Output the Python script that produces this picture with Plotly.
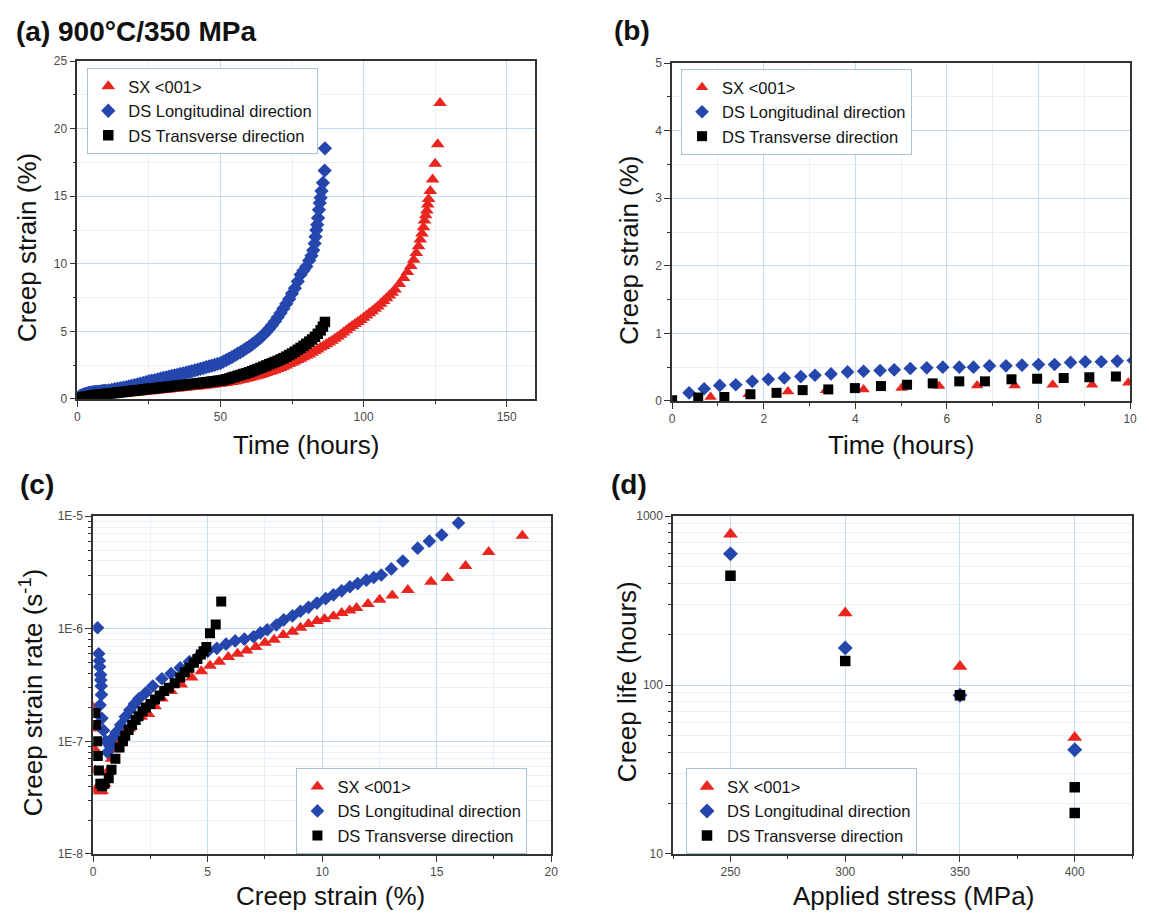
import plotly.graph_objects as go

# ---------------- data ----------------
SERIES = ['SX <001>', 'DS Longitudinal direction', 'DS Transverse direction']

# (a)/(b) creep strain (%) vs time (hours)
SX_time = [0.84, 1.67, 2.53, 3.36, 4.18, 5.01, 5.83, 6.66, 7.48, 8.31, 9.17, 9.96,
           11, 12, 13, 14, 15, 16, 17, 18, 19, 20, 21, 22, 23, 24, 25, 26, 27, 28, 29, 30,
           31, 32, 33, 34, 35, 36, 37, 38, 39, 40, 41, 42, 43, 44, 45, 46, 47, 48, 49, 50,
           51, 52, 53, 54, 55, 56, 57, 58, 59, 60, 61, 62, 63, 64, 65, 66, 67, 68, 69, 70,
           71, 72, 73, 74, 75, 76, 77, 78, 79, 80, 81, 82, 83, 84, 85, 86, 87, 88, 89, 90,
           91, 92, 93, 94, 95, 96, 97, 98, 99, 100, 101, 102, 103, 104, 105, 106, 107, 108,
           109, 110, 111,
           112.5, 114, 115.3, 116.5, 117.5, 118.4, 119.2, 119.8, 120.4, 120.9, 121.3, 121.7,
           122.1, 122.4, 122.7, 123.3, 124.1, 125.0, 125.9, 126.7]
SX_strain = [0.06, 0.10, 0.14, 0.16, 0.17, 0.19, 0.22, 0.23, 0.23, 0.24, 0.24, 0.27,
             0.29, 0.30, 0.32, 0.34, 0.36, 0.37, 0.39, 0.41, 0.43, 0.45, 0.47, 0.49, 0.51, 0.53,
             0.56, 0.58, 0.60, 0.62, 0.64, 0.66, 0.68, 0.70, 0.73, 0.75, 0.77, 0.79, 0.81, 0.83,
             0.86, 0.88, 0.90, 0.92, 0.95, 0.97, 1.00, 1.02, 1.05, 1.07, 1.10, 1.13, 1.16, 1.19,
             1.23, 1.26, 1.30, 1.35, 1.40, 1.45, 1.50, 1.55, 1.60, 1.66, 1.72, 1.78, 1.85, 1.92,
             1.99, 2.06, 2.13, 2.21, 2.30, 2.39, 2.48, 2.58, 2.68, 2.78, 2.88, 2.98, 3.08, 3.19,
             3.30, 3.42, 3.55, 3.67, 3.80, 3.92, 4.05, 4.17, 4.30, 4.45, 4.60, 4.76, 4.92, 5.08,
             5.25, 5.40, 5.55, 5.70, 5.85, 6.02, 6.18, 6.34, 6.50, 6.67, 6.85, 7.05, 7.25, 7.45,
             7.65, 7.87, 8.10,
             8.50, 8.95, 9.40, 9.85, 10.30, 10.80, 11.30, 11.80, 12.25, 12.70, 13.20, 13.60,
             13.95, 14.40, 14.80, 15.40, 16.25, 17.40, 18.85, 21.90]

DSL_time = [0.37, 0.70, 1.04, 1.39, 1.75, 2.10, 2.45, 2.81, 3.12, 3.47, 3.83, 4.18, 4.54, 4.85,
            5.20, 5.56, 5.91, 6.27, 6.58, 6.93, 7.29, 7.64, 8.00, 8.35, 8.70, 9.02, 9.37, 9.72, 10.07,
            11, 12, 13, 14, 15, 16, 17, 18, 19, 20, 21, 22, 23, 24, 25, 26, 27, 28, 29, 30,
            31, 32, 33, 34, 35, 36, 37, 38, 39, 40, 41, 42, 43, 44, 45, 46, 47, 48, 49, 50,
            51, 52, 53, 54, 55, 56, 57, 58, 59, 60, 61, 62, 63, 64, 65, 66, 67, 68, 69, 70,
            71, 72, 73, 74, 75, 76,
            77, 78, 79, 80, 81, 81.8, 82.4, 82.9, 83.2, 83.5, 83.8, 84.1, 84.4, 84.7, 85.0,
            85.3, 85.8, 86.4, 86.5]
DSL_strain = [0.12, 0.18, 0.23, 0.24, 0.29, 0.32, 0.34, 0.36, 0.38, 0.40, 0.43, 0.44, 0.45, 0.46,
              0.48, 0.49, 0.50, 0.50, 0.50, 0.52, 0.52, 0.53, 0.54, 0.54, 0.57, 0.58, 0.58, 0.59, 0.60,
              0.64, 0.68, 0.72, 0.76, 0.80, 0.84, 0.88, 0.93, 0.98, 1.03, 1.08, 1.14, 1.19, 1.25,
              1.31, 1.36, 1.40, 1.45, 1.50, 1.55, 1.60, 1.65, 1.70, 1.75, 1.80, 1.85, 1.90, 1.95,
              2.00, 2.05, 2.11, 2.17, 2.23, 2.29, 2.35, 2.41, 2.47, 2.53, 2.59, 2.65, 2.76, 2.88,
              2.99, 3.10, 3.22, 3.35, 3.47, 3.60, 3.74, 3.88, 4.03, 4.19, 4.36, 4.54, 4.74, 4.96,
              5.20, 5.46, 5.74, 6.04, 6.36, 6.70, 7.05, 7.40, 7.80, 8.20,
              8.70, 9.20, 9.50, 9.80, 10.25, 10.60, 11.00, 11.50, 12.00, 12.50, 12.90, 13.40,
              14.00, 14.50, 14.90, 15.40, 16.00, 16.90, 18.55]

DST_time = [0.00, 0.57, 1.14, 1.71, 2.28, 2.85, 3.41, 3.99, 4.56, 5.13, 5.69, 6.27, 6.83, 7.41,
            7.97, 8.55, 9.11, 9.69, 10.26,
            11, 12, 13, 14, 15, 16, 17, 18, 19, 20, 21, 22, 23, 24, 25, 26, 27, 28, 29, 30,
            31, 32, 33, 34, 35, 36, 37, 38, 39, 40, 41, 42, 43, 44, 45, 46, 47, 48, 49, 50,
            51, 52, 53, 54, 55, 56, 57, 58, 59, 60, 61, 62, 63, 64, 65, 66, 67, 68, 69, 70,
            71, 72, 73, 74, 75, 76, 77, 78, 79, 80,
            81, 82, 83, 84, 85, 85.8, 86.5]
DST_strain = [0.01, 0.05, 0.06, 0.10, 0.12, 0.16, 0.17, 0.19, 0.22, 0.24, 0.26, 0.29, 0.29, 0.32,
              0.33, 0.34, 0.35, 0.36, 0.38,
              0.40, 0.42, 0.45, 0.47, 0.50, 0.52, 0.55, 0.57, 0.60, 0.62, 0.65, 0.67, 0.70, 0.72,
              0.75, 0.77, 0.80, 0.82, 0.84, 0.86, 0.89, 0.91, 0.94, 0.96, 0.98, 1.00, 1.03, 1.05,
              1.08, 1.10, 1.13, 1.15, 1.18, 1.20, 1.23, 1.26, 1.29, 1.31, 1.34, 1.36, 1.41, 1.46,
              1.52, 1.58, 1.65, 1.71, 1.78, 1.84, 1.91, 1.98, 2.06, 2.14, 2.22, 2.30, 2.39, 2.48,
              2.57, 2.65, 2.74, 2.82, 2.92, 3.02, 3.13, 3.25, 3.37, 3.50, 3.64, 3.78, 3.93, 4.08,
              4.24, 4.40, 4.60, 4.82, 5.08, 5.35, 5.70]

# (c) creep strain rate (1/s) vs creep strain (%)
SX_c_strain = [0.00, 0.02, 0.03, 0.08, 0.13, 0.25, 0.39, 0.50, 0.63, 0.80, 0.94, 1.10, 1.30, 1.57,
               1.80, 2.10, 2.41, 2.70, 3.00, 3.40, 3.85, 4.30, 4.72, 5.10, 5.50, 5.90, 6.30, 6.70,
               7.10, 7.50, 7.90, 8.30, 8.70, 9.05, 9.40, 9.77, 10.10, 10.49, 10.85, 11.20, 11.50,
               12.00, 12.51, 13.06, 13.74, 14.75, 15.47, 16.26, 17.27, 18.74]
SX_c_rate = [2.0e-7, 1.3e-7, 8.7e-8, 5.5e-8, 3.8e-8, 3.6e-8, 3.6e-8, 4.2e-8, 5.4e-8, 7.0e-8,
             8.5e-8, 1.0e-7, 1.15e-7, 1.3e-7, 1.5e-7, 1.65e-7, 1.75e-7, 2.05e-7, 2.4e-7, 2.8e-7,
             3.2e-7, 3.7e-7, 4.2e-7, 4.7e-7, 5.1e-7, 5.6e-7, 6.0e-7, 6.4e-7, 6.9e-7, 7.5e-7,
             8.0e-7, 8.8e-7, 9.4e-7, 1.02e-6, 1.1e-6, 1.17e-6, 1.22e-6, 1.29e-6, 1.38e-6, 1.45e-6,
             1.53e-6, 1.66e-6, 1.81e-6, 1.97e-6, 2.21e-6, 2.61e-6, 2.83e-6, 3.6e-6, 4.8e-6, 6.7e-6]

DSL_c_strain = [0.19, 0.24, 0.27, 0.28, 0.32, 0.33, 0.35, 0.36, 0.30, 0.38, 0.45, 0.55, 0.62,
                0.75, 0.90, 1.00, 1.20, 1.40, 1.60, 1.80, 2.00, 2.30, 2.60, 3.00, 3.40, 3.80,
                4.20, 4.60, 5.00, 5.40, 5.80, 6.20, 6.60, 7.00, 7.30, 7.60, 8.00, 8.32, 8.70,
                9.05, 9.40, 9.77, 10.15, 10.49, 10.85, 11.21, 11.55, 11.93, 12.25, 12.58, 13.02,
                13.52, 14.17, 14.68, 15.22, 15.95]
DSL_c_rate = [1.02e-6, 6.0e-7, 5.2e-7, 4.6e-7, 3.9e-7, 3.5e-7, 3.1e-7, 2.6e-7, 2.1e-7, 1.6e-7,
              1.25e-7, 1.0e-7, 8.0e-8, 9.0e-8, 1.1e-7, 1.2e-7, 1.4e-7, 1.65e-7, 1.9e-7, 2.15e-7,
              2.4e-7, 2.7e-7, 3.1e-7, 3.6e-7, 4.0e-7, 4.5e-7, 5.1e-7, 5.7e-7, 6.3e-7, 6.7e-7,
              7.3e-7, 7.8e-7, 8.1e-7, 8.5e-7, 9.2e-7, 9.8e-7, 1.08e-6, 1.2e-6, 1.3e-6, 1.43e-6,
              1.55e-6, 1.69e-6, 1.85e-6, 2.0e-6, 2.17e-6, 2.36e-6, 2.52e-6, 2.7e-6, 2.85e-6,
              3.0e-6, 3.4e-6, 4.0e-6, 5.2e-6, 6.0e-6, 6.8e-6, 8.7e-6]

DST_c_strain = [0.10, 0.13, 0.17, 0.20, 0.25, 0.31, 0.39, 0.50, 0.68, 0.80, 0.97, 1.15, 1.30,
                1.40, 1.55, 1.70, 1.85, 1.98, 2.15, 2.30, 2.50, 2.70, 2.90, 3.10, 3.30, 3.56,
                3.80, 4.00, 4.20, 4.40, 4.55, 4.70, 4.82, 4.94, 5.10, 5.35, 5.59]
DST_c_rate = [1.79e-7, 1.4e-7, 1.0e-7, 7.4e-8, 5.5e-8, 4.2e-8, 4.0e-8, 4.2e-8, 4.7e-8, 5.6e-8,
              7.0e-8, 8.8e-8, 1.0e-7, 1.12e-7, 1.26e-7, 1.4e-7, 1.55e-7, 1.67e-7, 1.85e-7, 2.0e-7,
              2.15e-7, 2.35e-7, 2.55e-7, 2.8e-7, 3.0e-7, 3.28e-7, 3.7e-7, 4.1e-7, 4.5e-7, 5.0e-7,
              5.4e-7, 5.9e-7, 6.3e-7, 6.9e-7, 9.1e-7, 1.09e-6, 1.75e-6]

# (d) creep life (hours) vs applied stress (MPa)
SX_stress = [250, 300, 350, 400]
SX_life = [782, 267, 129, 48.9]
DSL_stress = [250, 300, 350, 400]
DSL_life = [598, 166, 87, 41.4]
DST_stress = [250, 300, 350, 400, 400]
DST_life = [444, 139, 87, 24.8, 17.5]

# tick labels
C_Y_TICKVALS = [1e-8, 1e-7, 1e-6, 1e-5]
C_Y_TICKTEXT = ['1E-8', '1E-7', '1E-6', '1E-5']
D_X_TICKVALS = [250, 300, 350, 400]
D_Y_TICKVALS = [10, 100, 1000]
D_Y_TICKTEXT = ['10', '100', '1000']

# ---------------- styling ----------------
W, H = 1149, 923
def px(x):
    return x / W
def py(y):
    return 1 - y / H

FONT = 'Liberation Sans, Arial, Helvetica, sans-serif'
COLORS = ['#e8261f', '#2446ad', '#000000']
SYMBOLS = ['triangle-up', 'diamond', 'square']
AX = '#333333'
GRID = '#c6dbea'
MGRID = '#e9f1f7'
TICKFONT = dict(family=FONT, size=12, color='#4a4a4a')

fig = go.Figure()

def add_series(xs, ys, xa, ya, legend, sizes):
    for i in range(3):
        fig.add_trace(go.Scatter(
            x=xs[i], y=ys[i], mode='markers', name=SERIES[i],
            xaxis=xa, yaxis=ya, legend=legend,
            marker=dict(symbol=SYMBOLS[i], color=COLORS[i], size=sizes[i], line=dict(width=0)),
            cliponaxis=True, showlegend=True))

add_series([SX_time, DSL_time, DST_time], [SX_strain, DSL_strain, DST_strain],
           'x', 'y', 'legend', [12, 11, 10.5])
add_series([SX_time, DSL_time, DST_time], [SX_strain, DSL_strain, DST_strain],
           'x2', 'y2', 'legend2', [11, 10.5, 10])
add_series([SX_c_strain, DSL_c_strain, DST_c_strain], [SX_c_rate, DSL_c_rate, DST_c_rate],
           'x3', 'y3', 'legend3', [12, 10.5, 10])
add_series([SX_stress, DSL_stress, DST_stress], [SX_life, DSL_life, DST_life],
           'x4', 'y4', 'legend4', [13, 11.5, 10.5])


def axis(domain, rng, ticks, minor, grid_minor=True, typ='linear', anchor=None):
    d = dict(domain=domain, range=rng, type=typ, anchor=anchor,
             showline=True, linecolor=AX, linewidth=1.6, mirror=True,
             ticks='outside', ticklen=6, tickwidth=1.2, tickcolor=AX,
             showgrid=True, gridcolor=GRID, gridwidth=1, zeroline=False,
             tickfont=TICKFONT, fixedrange=True)
    d.update(ticks)
    m = dict(ticks='outside', ticklen=3, tickwidth=1, tickcolor=AX,
             showgrid=grid_minor, gridcolor=MGRID, gridwidth=1)
    m.update(minor)
    d['minor'] = m
    return d


def mirror_axis(rng, ticks, minor, overlay, anchor, side, typ='linear'):
    d = dict(overlaying=overlay, anchor=anchor, side=side, range=rng, type=typ,
             showline=False, showgrid=False, zeroline=False, showticklabels=False,
             ticks='inside', ticklen=6, tickwidth=1.2, tickcolor=AX, fixedrange=True)
    d.update(ticks)
    m = dict(ticks='inside', ticklen=3, tickwidth=1, tickcolor=AX, showgrid=False)
    m.update(minor)
    d['minor'] = m
    return d


# panel geometry (pixels)
A_X = [px(75), px(537)]; A_Y = [py(398), py(55)]
B_X = [px(675), px(1137)]; B_Y = [py(400), py(57)]
C_X = [px(91), px(553)]; C_Y = [py(860), py(517)]
D_X = [px(676), px(1139)]; D_Y = [py(860), py(517)]

a_xt = dict(tickmode='linear', tick0=0, dtick=50); a_xm = dict(tickmode='linear', tick0=0, dtick=25)
a_yt = dict(tickmode='linear', tick0=0, dtick=5); a_ym = dict(tickmode='linear', tick0=0, dtick=2.5)
b_xt = dict(tickmode='linear', tick0=0, dtick=2); b_xm = dict(tickmode='linear', tick0=0, dtick=1)
b_yt = dict(tickmode='linear', tick0=0, dtick=1); b_ym = dict(tickmode='linear', tick0=0, dtick=0.5)
c_xt = dict(tickmode='linear', tick0=0, dtick=5); c_xm = dict(tickmode='linear', tick0=0, dtick=2.5)
c_minor_vals = [m * 10 ** e for e in (-8, -7, -6) for m in range(2, 10)]
c_yt = dict(tickmode='array', tickvals=C_Y_TICKVALS, ticktext=C_Y_TICKTEXT)
c_ym = dict(tickmode='array', tickvals=c_minor_vals)
d_xt = dict(tickmode='array', tickvals=D_X_TICKVALS)
d_xm = dict(tickmode='linear', tick0=225, dtick=25)
d_minor_vals = [m * 10 ** e for e in (1, 2) for m in range(2, 10)]
d_yt = dict(tickmode='array', tickvals=D_Y_TICKVALS, ticktext=D_Y_TICKTEXT)
d_ym = dict(tickmode='array', tickvals=d_minor_vals)

layout = dict(
    width=W, height=H, margin=dict(l=0, r=0, t=0, b=0),
    paper_bgcolor='white', plot_bgcolor='white',
    font=dict(family=FONT, color='#111111'),
    xaxis=axis(A_X, [0, 160], a_xt, a_xm, anchor='y'),
    yaxis=axis(A_Y, [0, 25], a_yt, a_ym, anchor='x'),
    xaxis2=axis(B_X, [0, 10], b_xt, b_xm, anchor='y2'),
    yaxis2=axis(B_Y, [0, 5], b_yt, b_ym, anchor='x2'),
    xaxis3=axis(C_X, [0, 20], c_xt, c_xm, anchor='y3'),
    yaxis3=axis(C_Y, [-8, -5], c_yt, c_ym, typ='log', anchor='x3'),
    xaxis4=axis(D_X, [225, 425], d_xt, d_xm, grid_minor=False, anchor='y4'),
    yaxis4=axis(D_Y, [1, 3], d_yt, d_ym, typ='log', anchor='x4'),
    # inside ticks on the top / right frame
    xaxis5=mirror_axis([0, 160], a_xt, a_xm, 'x', 'y', 'top'),
    yaxis5=mirror_axis([0, 25], a_yt, a_ym, 'y', 'x', 'right'),
    xaxis6=mirror_axis([0, 10], b_xt, b_xm, 'x2', 'y2', 'top'),
    yaxis6=mirror_axis([0, 5], b_yt, b_ym, 'y2', 'x2', 'right'),
    xaxis7=mirror_axis([0, 20], c_xt, c_xm, 'x3', 'y3', 'top'),
    yaxis7=mirror_axis([-8, -5], c_yt, c_ym, 'y3', 'x3', 'right', typ='log'),
    xaxis8=mirror_axis([225, 425], d_xt, d_xm, 'x4', 'y4', 'top'),
    yaxis8=mirror_axis([1, 3], d_yt, d_ym, 'y4', 'x4', 'right', typ='log'),
)


def legend(x, y):
    return dict(x=px(x), y=py(y), xanchor='left', yanchor='top', bgcolor='white',
                bordercolor='#a9c2d3', borderwidth=1, tracegroupgap=0, itemsizing='trace',
                font=dict(family=FONT, size=16.5, color='#141414'))

layout['legend'] = legend(85, 62)
layout['legend2'] = legend(684, 63)
layout['legend3'] = legend(296, 773)
layout['legend4'] = legend(689, 773)


def ann(text, x, y, size, angle=0, xanchor='center'):
    return dict(text=text, x=px(x), y=py(y), xref='paper', yref='paper', showarrow=False,
                textangle=angle, xanchor=xanchor, yanchor='middle',
                font=dict(family=FONT, size=size, color='#111111'))

layout['annotations'] = [
    ann('<b>(a) 900°C/350 MPa</b>', 11, 25, 28, xanchor='left'),
    ann('<b>(b)</b>', 614, 24, 28, xanchor='left'),
    ann('<b>(c)</b>', 15, 485, 28, xanchor='left'),
    ann('<b>(d)</b>', 611, 485, 28, xanchor='left'),
    ann('Creep strain (%)', 25, 244, 26, angle=-90),
    ann('Time (hours)', 306, 445, 26),
    ann('Creep strain (%)', 632, 247, 26, angle=-90),
    ann('Time (hours)', 906, 445, 26),
    ann('Creep strain rate (s<sup>-1</sup>)', 29, 696, 26, angle=-90),
    ann('Creep strain (%)', 330, 903, 26),
    ann('Creep life (hours)', 629, 685, 26, angle=-90),
    ann('Applied stress (MPa)', 918, 903, 26),
]

fig.update_layout(**layout)
# remove the default 8px page margin so the figure fills the window exactly
fig.write_html('out.html', config={'displayModeBar': False},
               post_script="document.body.style.margin='0px';")
